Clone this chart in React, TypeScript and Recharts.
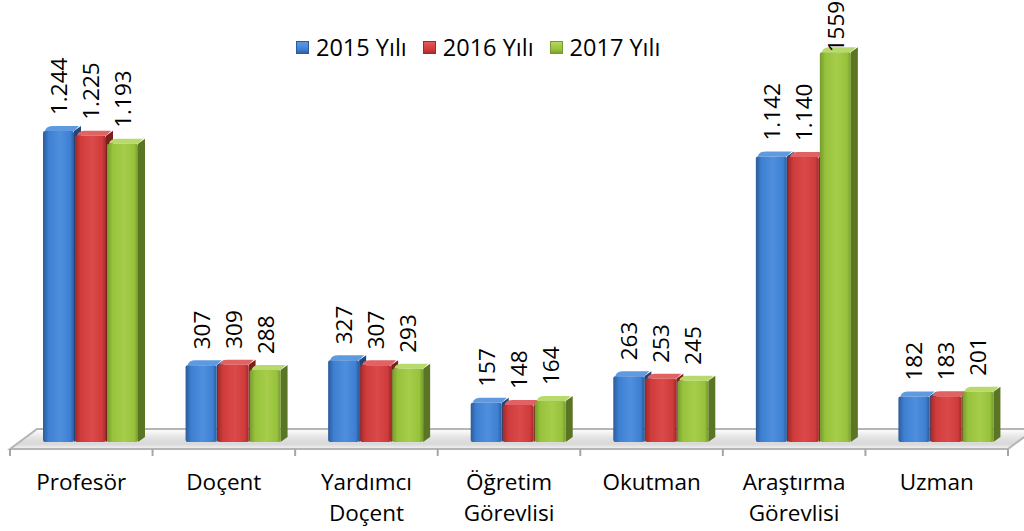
import { Bar, BarChart, LabelList, Legend, ReferenceArea, XAxis, YAxis } from "recharts";

// Akademik personel sayıları, yıllara göre
const CATEGORIES = [
  "Profesör",
  "Doçent",
  "Yardımcı Doçent",
  "Öğretim Görevlisi",
  "Okutman",
  "Araştırma Görevlisi",
  "Uzman",
];
const SERIES_NAMES = ["2015 Yılı", "2016 Yılı", "2017 Yılı"];
const VALUES_2015 = [1244, 307, 327, 157, 263, 1142, 182];
const VALUES_2016 = [1225, 309, 307, 148, 253, 1140, 183];
const VALUES_2017 = [1193, 288, 293, 164, 245, 1559, 201];
const LABELS_2015 = ["1.244", "307", "327", "157", "263", "1.142", "182"];
const LABELS_2016 = ["1.225", "309", "307", "148", "253", "1.140", "183"];
const LABELS_2017 = ["1.193", "288", "293", "164", "245", "1559", "201"];
const Y_DOMAIN: [number, number] = [0, 1600];

const W = 1024;
const H = 531;
const MARGIN = { top: 42, right: 7, bottom: 0, left: 19 };
const XAXIS_H = 89;
const BASE_Y = H - XAXIS_H; // bar baseline
const PLOT_W = W - MARGIN.left - MARGIN.right;
const BAND = PLOT_W / CATEGORIES.length;
// oblique 3D floor: front edge sits below/left of the bars, back edge above/right
const FRONT_DX = -9;
const FRONT_DY = 7;
const BACK_DX = 18;
const BACK_DY = -13;
const DEPTH_X = 7;
const DEPTH_Y = 5;
const FONT = "'Open Sans', 'Noto Sans', sans-serif";
const TEXT_SIZE = 22.5;

const PALETTES = [
  { id: "b", dark: "#2c5b99", mid: "#3d7fd2", light: "#4f8fdd", side: "#22467a", top: "#5e9ae0" },
  { id: "r", dark: "#9f2a2a", mid: "#d03b3b", light: "#da4a4a", side: "#7c1f1f", top: "#e06262" },
  { id: "g", dark: "#769a2e", mid: "#97c23b", light: "#a6cd4b", side: "#5a7524", top: "#b8da6c" },
];

const rows = CATEGORIES.map((name, i) => ({
  name,
  v2015: VALUES_2015[i],
  v2016: VALUES_2016[i],
  v2017: VALUES_2017[i],
  l2015: LABELS_2015[i],
  l2016: LABELS_2016[i],
  l2017: LABELS_2017[i],
}));

const SERIES = [
  { key: "v2015", label: "l2015" },
  { key: "v2016", label: "l2016" },
  { key: "v2017", label: "l2017" },
];

function Bar3D(props: any) {
  const { x, y, width, height, palette } = props;
  if (!(height > 0)) return null;
  const p = palette;
  const gid = `front-${p.id}`;
  return (
    <g>
      <defs>
        <linearGradient id={gid} x1="0" y1="0" x2="1" y2="0">
          <stop offset="0%" stopColor={p.dark} />
          <stop offset="18%" stopColor={p.mid} />
          <stop offset="55%" stopColor={p.light} />
          <stop offset="88%" stopColor={p.mid} />
          <stop offset="100%" stopColor={p.dark} />
        </linearGradient>
      </defs>
      <path
        d={`M${x + width},${y} L${x + width + DEPTH_X},${y - DEPTH_Y} L${x + width + DEPTH_X},${y + height - DEPTH_Y} L${x + width},${y + height} Z`}
        fill={p.side}
      />
      <path
        d={`M${x + 2},${y} Q${x + 3},${y - DEPTH_Y} ${x + DEPTH_X + 3},${y - DEPTH_Y} L${x + width + DEPTH_X - 2},${y - DEPTH_Y} L${x + width},${y} Z`}
        fill={p.top}
      />
      <rect x={x} y={y} width={width} height={height} rx={2} fill={`url(#${gid})`} />
    </g>
  );
}

function ValueLabel(props: any) {
  const { x, y, width, value } = props;
  const fs = TEXT_SIZE;
  const len = String(value).length * 0.57 * fs;
  // keep the rotated label inside the chart's top edge
  const off = Math.max(0, Math.min(16, y - 1 - len));
  const cx = x + width / 2;
  const ty = y - off;
  return (
    <text
      x={cx}
      y={ty}
      transform={`rotate(-90 ${cx} ${ty})`}
      textAnchor="start"
      dominantBaseline="central"
      fontFamily={FONT}
      fontSize={fs}
      fill="#000"
    >
      {value}
    </text>
  );
}

function CategoryTick(props: any) {
  const { x, payload, index } = props;
  const lines = String(payload.value).split(" ");
  const fx = x + FRONT_DX;
  const fy = BASE_Y + FRONT_DY;
  const left = fx - BAND / 2;
  const right = fx + BAND / 2;
  return (
    <g>
      <line x1={left} y1={fy} x2={left} y2={fy + 7} stroke="#a6a6a6" strokeWidth={2} />
      {index === CATEGORIES.length - 1 && (
        <line x1={right} y1={fy} x2={right} y2={fy + 7} stroke="#a6a6a6" strokeWidth={2} />
      )}
      <text textAnchor="middle" fontFamily={FONT} fontSize={TEXT_SIZE} fill="#000">
        {lines.map((l, i) => (
          <tspan key={i} x={fx} y={BASE_Y + 48 + i * 31}>
            {l}
          </tspan>
        ))}
      </text>
    </g>
  );
}

function Floor(props: any) {
  const { x, width } = props;
  const x0 = x;
  const x1 = x + width;
  const front = BASE_Y + FRONT_DY;
  const back = BASE_Y + BACK_DY;
  const d = `M${x0 + FRONT_DX},${front} L${x1 + FRONT_DX},${front} L${x1 + BACK_DX},${back} L${x0 + BACK_DX},${back} Z`;
  return (
    <g>
      <defs>
        <linearGradient id="floor" x1="0" y1="0" x2="0" y2="1">
          <stop offset="0%" stopColor="#ffffff" />
          <stop offset="45%" stopColor="#e2e2e2" />
          <stop offset="75%" stopColor="#d8d8d8" />
          <stop offset="100%" stopColor="#f4f4f4" />
        </linearGradient>
      </defs>
      <path d={d} fill="url(#floor)" stroke="#b5b5b5" strokeWidth={2} />
    </g>
  );
}

function LegendBox() {
  return (
    <div style={{ display: "flex", alignItems: "center", fontFamily: FONT, fontSize: 23.5, color: "#000", whiteSpace: "nowrap" }}>
      {SERIES_NAMES.map((name, i) => {
        const p = PALETTES[i];
        return (
          <div key={name} style={{ display: "flex", alignItems: "center", marginRight: 16 }}>
            <span
              style={{
                display: "inline-block",
                width: 13,
                height: 13,
                marginRight: 7,
                background: `linear-gradient(180deg, ${p.top} 0%, ${p.light} 35%, ${p.mid} 65%, ${p.dark} 100%)`,
                boxShadow: `inset 0 0 0 1px ${p.dark}`,
              }}
            />
            <span>{name}</span>
          </div>
        );
      })}
    </div>
  );
}

export default function App() {
  return (
    <div style={{ position: "absolute", left: 0, top: 0, width: W, height: H, background: "#fff", overflow: "hidden" }}>
      <BarChart width={W} height={H} data={rows} margin={MARGIN} barSize={31} barGap={1}>
        <XAxis
          dataKey="name"
          height={XAXIS_H}
          axisLine={false}
          tickLine={false}
          interval={0}
          tick={<CategoryTick />}
        />
        <YAxis hide domain={Y_DOMAIN} />
        <ReferenceArea y1={0} y2={40} ifOverflow="visible" shape={<Floor />} />
        <Legend
          verticalAlign="middle"
          wrapperStyle={{ top: 31, left: 296, width: 440 }}
          content={() => <LegendBox />}
        />
        {SERIES.map((s, i) => (
          <Bar
            key={s.key}
            dataKey={s.key}
            name={SERIES_NAMES[i]}
            isAnimationActive={false}
            shape={(p: any) => <Bar3D {...p} palette={PALETTES[i]} />}
          >
            <LabelList dataKey={s.label} content={<ValueLabel />} />
          </Bar>
        ))}
      </BarChart>
    </div>
  );
}
